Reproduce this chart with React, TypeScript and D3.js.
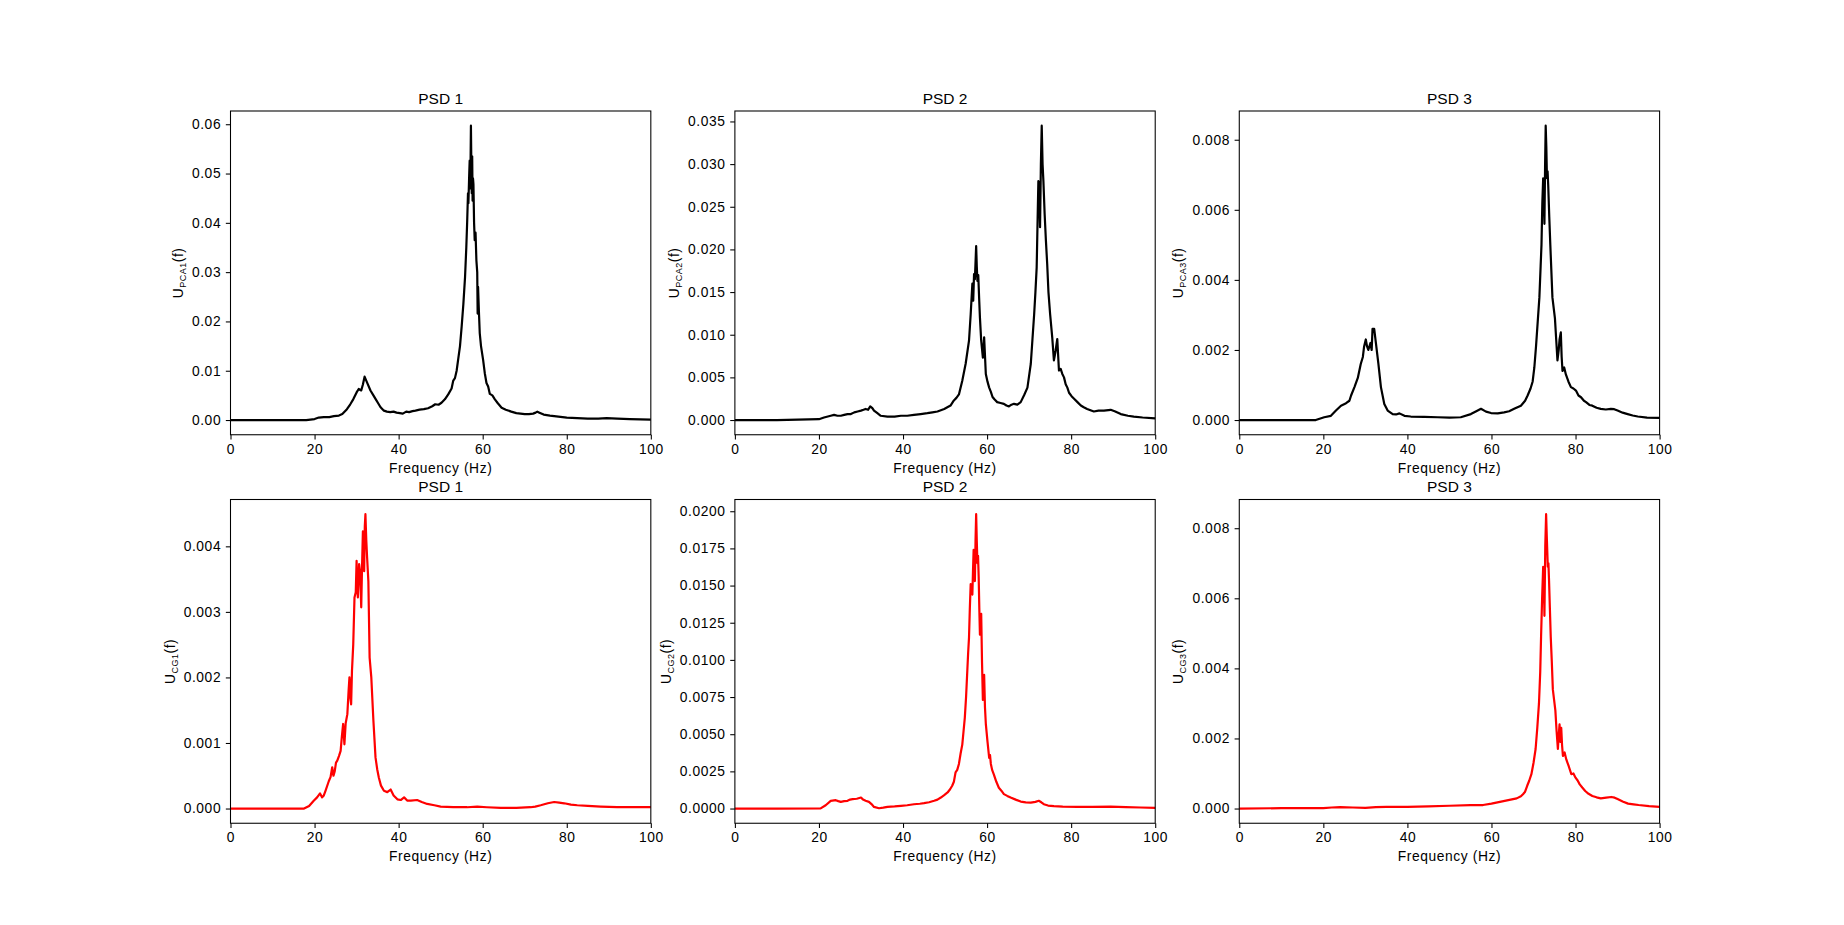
import * as d3 from "d3";
import { useEffect, useRef } from "react";

// frequency axis
const xTicks = [0, 20, 40, 60, 80, 100];
const titles = ["PSD 1", "PSD 2", "PSD 3"];

// [frequency (Hz), PSD]
const pca1 = [
  [0, 0], [10, 0], [18, 0], [20, 0.0002], [21, 0.0005], [22.2, 0.0006], [23.5, 0.0006], [24.6, 0.0008],
  [25.8, 0.0009], [26.6, 0.0012], [27.7, 0.0022], [28.5, 0.0032], [29.2, 0.0042], [30, 0.0056], [30.5, 0.0063],
  [31.1, 0.006], [31.5, 0.0072], [31.9, 0.0088], [32.2, 0.0082], [32.5, 0.0076], [33.3, 0.006], [34, 0.005],
  [34.5, 0.0043], [35.2, 0.0033], [35.7, 0.0026], [36.5, 0.0019], [37.2, 0.0017], [38, 0.0016], [38.8, 0.0017],
  [39.5, 0.0015], [40.3, 0.0014], [41, 0.0013], [41.8, 0.0017], [42.5, 0.0016], [43.3, 0.0018], [44, 0.0019],
  [45, 0.0021], [46, 0.0022], [47, 0.0024], [48, 0.0028], [48.7, 0.0032], [49.5, 0.0031], [50.2, 0.0035],
  [51, 0.0042], [51.8, 0.0052], [52.6, 0.0064], [53, 0.008], [53.4, 0.0085], [53.8, 0.01], [54.2, 0.0125],
  [54.6, 0.015], [55, 0.019], [55.4, 0.0235], [55.8, 0.029], [56.1, 0.035], [56.3, 0.04], [56.5, 0.046],
  [56.6, 0.044], [56.8, 0.05], [56.9, 0.0526], [57.05, 0.047], [57.2, 0.0597], [57.3, 0.052], [57.4, 0.046],
  [57.5, 0.0535], [57.6, 0.0445], [57.7, 0.049], [57.8, 0.0478], [57.95, 0.04], [58.1, 0.0365], [58.3, 0.038],
  [58.5, 0.0324], [58.7, 0.03], [58.8, 0.0216], [58.9, 0.027], [59.1, 0.022], [59.3, 0.0176], [59.6, 0.015],
  [60.1, 0.0122], [60.5, 0.0095], [60.9, 0.0075], [61.3, 0.0068], [61.7, 0.0053], [62.3, 0.005], [62.9, 0.0042],
  [63.6, 0.0034], [64.5, 0.0025], [65.5, 0.0021], [66.8, 0.0017], [68, 0.0014], [69, 0.0013], [70, 0.0012],
  [71, 0.0012], [72, 0.0013], [72.6, 0.0015], [73, 0.0017], [73.5, 0.0015], [74.5, 0.0011], [76, 0.0009],
  [78, 0.0007], [80, 0.0005], [82.5, 0.0004], [85, 0.0003], [87.5, 0.0003], [89.5, 0.0004], [92, 0.0003],
  [95, 0.0002], [97.5, 0.00015], [100, 0.0001],
];

const pca2 = [
  [0, 0], [10, 0], [20, 0.0001], [21.2, 0.0003], [22.8, 0.0005], [23.6, 0.0006], [24.4, 0.0005], [25.2, 0.0005],
  [26, 0.0006], [26.8, 0.0007], [27.6, 0.0007], [28.4, 0.0009], [29.2, 0.001], [30, 0.0011], [30.6, 0.0012],
  [31.1, 0.0013], [31.7, 0.0012], [32.2, 0.0016], [32.7, 0.0014], [33.1, 0.0011], [33.9, 0.0008], [34.7, 0.0005],
  [36.3, 0.0004], [38, 0.0004], [39.5, 0.0005], [41, 0.0005], [42.6, 0.0006], [44.2, 0.0007], [45.8, 0.0008],
  [47, 0.0009], [48.2, 0.001], [49.8, 0.0013], [51.3, 0.0017], [52.1, 0.0023], [52.7, 0.0026], [53.3, 0.003],
  [54.1, 0.0046], [54.9, 0.0066], [55.7, 0.0093], [56.1, 0.0124], [56.5, 0.016], [56.7, 0.014], [56.9, 0.0171],
  [57.1, 0.0165], [57.4, 0.0204], [57.55, 0.018], [57.7, 0.0163], [57.9, 0.017], [58.1, 0.0144], [58.3, 0.012],
  [58.6, 0.0093], [59, 0.0073], [59.3, 0.0097], [59.7, 0.0054], [60.1, 0.0045], [60.5, 0.0038], [60.9, 0.0033],
  [61.3, 0.0027], [61.8, 0.0024], [62.4, 0.0021], [63.2, 0.002], [64, 0.0019], [64.6, 0.0017], [65.2, 0.0016],
  [65.8, 0.0018], [66.4, 0.0019], [67.2, 0.0018], [68, 0.0021], [68.8, 0.0029], [69.6, 0.0038], [70.4, 0.0066],
  [70.8, 0.0095], [71.2, 0.0124], [71.5, 0.015], [71.8, 0.0179], [72, 0.023], [72.2, 0.028], [72.4, 0.0275],
  [72.6, 0.0226], [72.8, 0.03], [73, 0.0345], [73.2, 0.03], [73.4, 0.028], [73.7, 0.0241], [74, 0.021],
  [74.3, 0.0183], [74.6, 0.015], [75, 0.0124], [75.5, 0.0097], [75.9, 0.007], [76.3, 0.0081], [76.7, 0.0095],
  [77.1, 0.0058], [77.5, 0.006], [77.9, 0.0054], [78.3, 0.005], [78.7, 0.0042], [79.1, 0.0038], [79.5, 0.0032],
  [80.1, 0.0028], [80.7, 0.0025], [81.5, 0.0021], [82.3, 0.0017], [83, 0.0015], [83.8, 0.0013], [85.4, 0.001],
  [86.5, 0.0011], [87.8, 0.0011], [89.4, 0.0012], [90.5, 0.001], [91.8, 0.0007], [93.5, 0.0005], [94.9, 0.0004],
  [97, 0.0003], [100, 0.0002],
];

const pca3 = [
  [0, 0], [10, 0], [18.2, 0], [20.2, 0.00008], [21.8, 0.00012], [23, 0.00027], [24.2, 0.00041], [25.4, 0.00048],
  [26.2, 0.00055], [26.6, 0.0007], [27.4, 0.00094], [28.2, 0.0012], [28.9, 0.0016], [29.4, 0.0018], [29.7, 0.0021],
  [30.1, 0.0023], [30.4, 0.0021], [30.7, 0.002], [31.2, 0.0022], [31.5, 0.002], [31.7, 0.0026], [32.1, 0.0026],
  [32.5, 0.0022], [33.1, 0.0016], [33.7, 0.00094], [34.5, 0.00046], [35.3, 0.00027], [36.5, 0.00017],
  [37.3, 0.00016], [38.1, 0.00019], [39.3, 0.00012], [40.8, 0.0001], [44, 0.00009], [47.2, 0.00008], [50, 0.00007],
  [52.7, 0.00008], [55.1, 0.00017], [56.5, 0.00026], [57.5, 0.00032], [58.7, 0.00024], [59.9, 0.0002],
  [61.5, 0.00019], [63, 0.00022], [64.2, 0.00025], [65.4, 0.00032], [67, 0.00041], [68, 0.00055], [68.6, 0.0007],
  [69.3, 0.0009], [69.8, 0.0011], [70.2, 0.0015], [70.6, 0.0021], [71, 0.0028], [71.4, 0.0035], [71.7, 0.0044],
  [71.9, 0.005], [72.1, 0.0062], [72.3, 0.0069], [72.45, 0.0066], [72.6, 0.0056], [72.75, 0.0072], [72.9, 0.0084],
  [73.05, 0.0078], [73.2, 0.0069], [73.35, 0.0071], [73.5, 0.0067], [73.75, 0.0058], [74, 0.005], [74.5, 0.0035],
  [75.1, 0.0029], [75.4, 0.0023], [75.7, 0.0017], [76, 0.002], [76.2, 0.0023], [76.5, 0.0025], [76.7, 0.0018],
  [76.9, 0.0014], [77.3, 0.0015], [77.7, 0.0013], [78.3, 0.0011], [78.9, 0.00094], [79.5, 0.0009], [80.1, 0.00084],
  [80.7, 0.0007], [81.3, 0.00065], [82, 0.00055], [82.5, 0.00051], [83.3, 0.00043], [84, 0.00041], [85, 0.00035],
  [86, 0.00032], [87.2, 0.0003], [88.4, 0.00032], [89.2, 0.00031], [90, 0.00027], [91.2, 0.00021], [92.4, 0.00017],
  [93.6, 0.00013], [94.8, 0.0001], [97, 0.00007], [100, 0.00006],
];

const cg1 = [
  [0, 0], [10, 0], [17.5, 0], [18.7, 0.00004], [19.8, 0.00012], [20.6, 0.00017], [21.3, 0.00023], [21.8, 0.00017],
  [22.2, 0.0002], [22.6, 0.00027], [23.4, 0.00042], [23.8, 0.00048], [24.2, 0.00063], [24.5, 0.0005],
  [24.8, 0.00057], [25.1, 0.0007], [25.4, 0.00073], [25.8, 0.0008], [26.2, 0.00088], [26.5, 0.0011],
  [26.8, 0.00129], [27.1, 0.00098], [27.4, 0.0013], [27.8, 0.00144], [28.1, 0.0018], [28.3, 0.002], [28.5, 0.0017],
  [28.7, 0.00159], [28.9, 0.0021], [29.2, 0.0025], [29.5, 0.00322], [29.8, 0.0033], [30, 0.00378], [30.15, 0.0034],
  [30.3, 0.00322], [30.6, 0.00373], [30.85, 0.0036], [31.1, 0.00307], [31.3, 0.0037], [31.5, 0.00423],
  [31.65, 0.0039], [31.8, 0.00362], [31.95, 0.0043], [32.1, 0.00449], [32.3, 0.0041], [32.5, 0.00383],
  [32.8, 0.00347], [33.1, 0.0023], [33.5, 0.002], [34, 0.00134], [34.5, 0.00078], [34.9, 0.0006], [35.3, 0.00047],
  [35.8, 0.00035], [36.5, 0.00027], [37.3, 0.00025], [38.1, 0.00029], [38.8, 0.0002], [39.7, 0.00014],
  [40.5, 0.00013], [41.3, 0.00017], [42.1, 0.00012], [42.9, 0.00012], [44.4, 0.00013], [45.5, 0.0001],
  [46.8, 0.00007], [48.5, 0.00005], [50, 0.00003], [53, 0.00002], [56.3, 0.00002], [58.7, 0.00003], [61, 0.00002],
  [64.3, 0.00001], [68, 0.00001], [71.4, 0.00002], [72.5, 0.00003], [73.8, 0.00005], [75.5, 0.00008], [77, 0.0001],
  [78.2, 0.00009], [79.4, 0.00008], [81, 0.00006], [82.5, 0.00005], [85, 0.00004], [88.1, 0.00003], [92, 0.00002],
  [96, 0.00002], [100, 0.00002],
];

const cg2 = [
  [0, 0], [10, 0], [20.4, 0.00001], [21.6, 0.00022], [22.8, 0.00052], [24, 0.00056], [24.6, 0.0005],
  [25.2, 0.00045], [26, 0.0005], [26.8, 0.00052], [27.4, 0.0006], [28, 0.00063], [29, 0.00066], [30, 0.00074],
  [30.5, 0.0006], [31.1, 0.00052], [31.9, 0.00045], [32.5, 0.0003], [33.1, 0.00011], [34.3, 0.00002],
  [35.3, 0.00006], [36.3, 0.00011], [38, 0.00014], [39.5, 0.00018], [41, 0.00022], [42.6, 0.00029], [44, 0.00032],
  [45, 0.00036], [46.2, 0.00042], [47.4, 0.00052], [48.2, 0.0006], [49, 0.00074], [49.8, 0.0009], [50.6, 0.00108],
  [51.2, 0.0013], [51.7, 0.00153], [52.1, 0.0018], [52.5, 0.00243], [52.9, 0.0026], [53.3, 0.003], [53.7, 0.0037],
  [54.1, 0.0043], [54.4, 0.0052], [54.7, 0.0061], [55, 0.0075], [55.3, 0.0093], [55.5, 0.0105], [55.7, 0.0115],
  [55.9, 0.0135], [56.1, 0.0151], [56.3, 0.0145], [56.5, 0.0144], [56.65, 0.016], [56.8, 0.0174], [56.95, 0.016],
  [57.1, 0.0153], [57.25, 0.018], [57.4, 0.0198], [57.55, 0.018], [57.7, 0.0165], [57.85, 0.017], [58, 0.0156],
  [58.15, 0.0135], [58.3, 0.0117], [58.45, 0.0128], [58.6, 0.0131], [58.8, 0.0098], [59, 0.0073], [59.15, 0.008],
  [59.3, 0.009], [59.5, 0.0068], [59.7, 0.0057], [60.1, 0.0045], [60.5, 0.0034], [60.7, 0.0036], [60.9, 0.003],
  [61.2, 0.0026], [61.6, 0.0023], [62.2, 0.0018], [62.8, 0.0014], [63.4, 0.0012], [64, 0.00097], [64.8, 0.00085],
  [65.6, 0.00074], [66.8, 0.0006], [68, 0.00047], [69.2, 0.00042], [70.4, 0.0004], [71.5, 0.00045],
  [72.3, 0.00052], [72.9, 0.00042], [73.5, 0.00029], [74.5, 0.0002], [75.9, 0.00016], [78, 0.00013],
  [81.5, 0.00011], [85, 0.00011], [89.4, 0.00013], [93, 0.0001], [96.5, 0.00007], [100, 0.00004],
];

const cg3 = [
  [0, 0], [10, 0.00001], [20, 0.00001], [22, 0.00003], [24, 0.00004], [27, 0.00003], [30, 0.00002],
  [32.5, 0.00004], [35, 0.00005], [40, 0.00005], [45, 0.00006], [50, 0.00008], [55, 0.0001], [58, 0.0001],
  [60, 0.00014], [62, 0.00019], [64, 0.00024], [66, 0.00029], [67, 0.00035], [67.5, 0.00041], [68, 0.00048],
  [68.5, 0.00065], [69, 0.0008], [69.5, 0.00098], [70, 0.0013], [70.5, 0.0017], [70.9, 0.0023], [71.3, 0.003],
  [71.6, 0.0039], [71.8, 0.0049], [72.05, 0.006], [72.3, 0.0069], [72.45, 0.0066], [72.6, 0.0055], [72.8, 0.0075],
  [73, 0.0084], [73.15, 0.0078], [73.4, 0.0069], [73.55, 0.007], [73.7, 0.0065], [73.9, 0.0057], [74.1, 0.0049],
  [74.35, 0.0042], [74.6, 0.0034], [74.9, 0.0031], [75.2, 0.0028], [75.5, 0.0022], [75.8, 0.0017], [76, 0.0021],
  [76.2, 0.0024], [76.4, 0.0019], [76.6, 0.0023], [76.8, 0.0018], [77, 0.0015], [77.4, 0.0016], [77.8, 0.0014],
  [78.4, 0.0012], [79, 0.00098], [79.5, 0.001], [80, 0.00088], [80.5, 0.0008], [81, 0.00069], [81.6, 0.0006],
  [82.3, 0.0005], [83.1, 0.00042], [84, 0.00036], [85, 0.00032], [86, 0.00029], [87.3, 0.00031], [88.5, 0.00033],
  [89.3, 0.00031], [90, 0.00027], [91.2, 0.0002], [92.5, 0.00014], [93.8, 0.00012], [95, 0.0001], [97.5, 0.00007],
  [100, 0.00005],
];

// y tick labels per panel
const yTicksPCA1 = ["0.00", "0.01", "0.02", "0.03", "0.04", "0.05", "0.06"];
const yTicksPCA2 = ["0.000", "0.005", "0.010", "0.015", "0.020", "0.025", "0.030", "0.035"];
const yTicksPCA3 = ["0.000", "0.002", "0.004", "0.006", "0.008"];
const yTicksCG1 = ["0.000", "0.001", "0.002", "0.003", "0.004"];
const yTicksCG2 = ["0.0000", "0.0025", "0.0050", "0.0075", "0.0100", "0.0125", "0.0150", "0.0175", "0.0200"];
const yTicksCG3 = ["0.000", "0.002", "0.004", "0.006", "0.008"];

const panels = [
  { title: titles[0], sub: "PCA1", color: "#000000", data: pca1, ticks: yTicksPCA1 },
  { title: titles[1], sub: "PCA2", color: "#000000", data: pca2, ticks: yTicksPCA2 },
  { title: titles[2], sub: "PCA3", color: "#000000", data: pca3, ticks: yTicksPCA3 },
  { title: titles[0], sub: "CG1", color: "#ff0000", data: cg1, ticks: yTicksCG1 },
  { title: titles[1], sub: "CG2", color: "#ff0000", data: cg2, ticks: yTicksCG2 },
  { title: titles[2], sub: "CG3", color: "#ff0000", data: cg3, ticks: yTicksCG3 },
];

const W = 1844;
const H = 925;
const FONT = "'Liberation Sans', Arial, sans-serif";
const TICK_FS = 13.8;
const TICK_LS = 0.6;

// width of a tick label, used to push the y label clear of it
const measure = (s: string) => {
  const ctx = document.createElement("canvas").getContext("2d");
  if (!ctx) return s.length * 8;
  ctx.font = `${TICK_FS}px ${FONT}`;
  return ctx.measureText(s).width + TICK_LS * s.length;
};

const drawChart = (target: SVGSVGElement) => {
  const svg = d3.select(target);
  svg.selectAll("*").remove();

  // matplotlib subplot defaults
  const left = 0.125 * W;
  const right = 0.9 * W;
  const top = (1 - 0.88) * H;
  const bottom = (1 - 0.11) * H;
  const aw = (right - left) / 3.4;
  const ah = (bottom - top) / 2.2;
  const tick = 4.67;

  panels.forEach((p, i) => {
    const col = i % 3;
    const row = Math.floor(i / 3);
    const x0 = left + col * aw * 1.2;
    const y0 = top + row * ah * 1.2;
    const g = svg.append("g").attr("transform", `translate(${x0},${y0})`);

    const vmin = d3.min(p.data, (d) => d[1]) as number;
    const vmax = d3.max(p.data, (d) => d[1]) as number;
    const pad = (vmax - vmin) * 0.05;
    const x = d3.scaleLinear().domain([0, 100]).range([0, aw]);
    const y = d3.scaleLinear().domain([vmin - pad, vmax + pad]).range([ah, 0]);

    const line = d3
      .line<number[]>()
      .x((d) => x(d[0]))
      .y((d) => y(d[1]));

    g.append("path")
      .attr("d", line(p.data))
      .attr("fill", "none")
      .attr("stroke", p.color)
      .attr("stroke-width", 2.2)
      .attr("stroke-linejoin", "round");

    const xAxis = g
      .append("g")
      .attr("transform", `translate(0,${ah})`)
      .call(
        d3
          .axisBottom(x)
          .tickValues(xTicks)
          .tickFormat((d) => String(d))
          .tickSize(tick)
          .tickPadding(tick)
          .tickSizeOuter(0)
      );

    const yVals = p.ticks.map((t) => parseFloat(t));
    const yAxis = g.append("g").call(
      d3
        .axisLeft(y)
        .tickValues(yVals)
        .tickFormat((_d, k) => p.ticks[k])
        .tickSize(tick)
        .tickPadding(tick)
        .tickSizeOuter(0)
    );

    [xAxis, yAxis].forEach((a) => {
      a.select(".domain").remove();
      a.attr("font-family", FONT).attr("font-size", TICK_FS);
      a.selectAll("line").attr("stroke", "#000").attr("stroke-width", 1.07);
      a.selectAll("text").attr("fill", "#000").attr("letter-spacing", TICK_LS);
    });

    // spines
    g.append("rect")
      .attr("width", aw)
      .attr("height", ah)
      .attr("fill", "none")
      .attr("stroke", "#000")
      .attr("stroke-width", 1.07);

    g.append("text")
      .attr("x", aw / 2)
      .attr("y", -7.5)
      .attr("text-anchor", "middle")
      .attr("font-family", FONT)
      .attr("font-size", 15.5)
      .attr("fill", "#000")
      .text(p.title);

    g.append("text")
      .attr("x", aw / 2)
      .attr("y", ah + 38)
      .attr("text-anchor", "middle")
      .attr("font-family", FONT)
      .attr("font-size", TICK_FS)
      .attr("letter-spacing", 0.6)
      .attr("fill", "#000")
      .text("Frequency (Hz)");

    const maxW = d3.max(p.ticks, (t) => measure(t)) as number;
    const lx = -tick - tick - maxW - 9;
    const yl = g
      .append("text")
      .attr("transform", `translate(${lx},${ah / 2}) rotate(-90)`)
      .attr("text-anchor", "middle")
      .attr("font-family", FONT)
      .attr("font-size", TICK_FS)
      .attr("letter-spacing", 0.5)
      .attr("fill", "#000");
    yl.append("tspan").text("U");
    yl.append("tspan").attr("font-size", 9).attr("dy", 3).text(p.sub);
    yl.append("tspan").attr("dy", -3).text("(f)");
  });
};

const App = () => {
  const ref = useRef<SVGSVGElement>(null);
  useEffect(() => {
    if (ref.current) drawChart(ref.current);
  }, []);
  return (
    <svg
      ref={ref}
      width={W}
      height={H}
      style={{ position: "absolute", left: 0, top: 0, background: "#fff", display: "block" }}
    />
  );
};

export default App;
